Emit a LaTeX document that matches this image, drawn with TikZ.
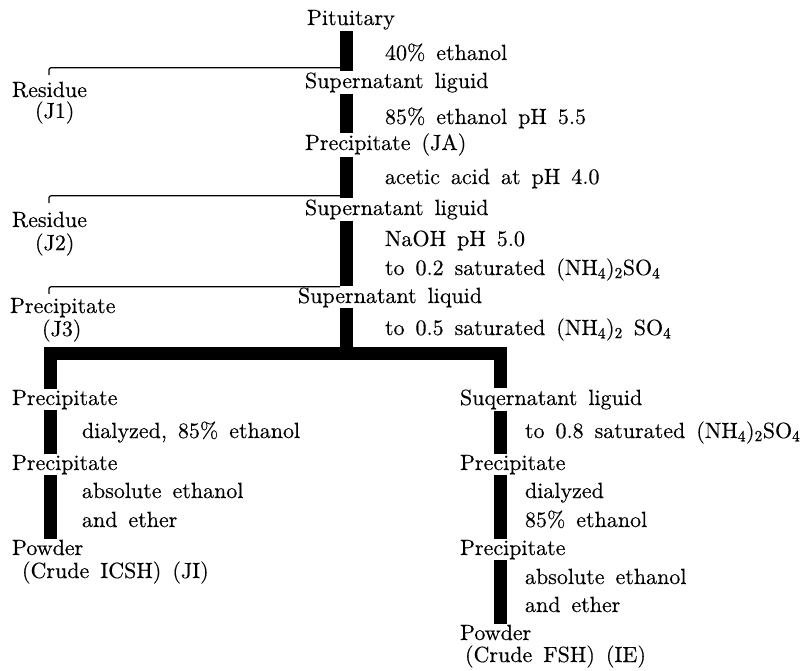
\documentclass[tikz,border=0pt]{standalone}
\usepackage{fontspec}
\setmainfont{lmroman10-regular.otf}[WordSpace=1.5, FakeBold=0.3]
\begin{document}
\begin{tikzpicture}[x=1pt, y=-1pt, line join=miter,
    txt/.style={anchor=base west, inner sep=0pt, outer sep=0pt, font=\fontsize{22}{26}\selectfont},
    bar/.style={line width=13pt, shorten >=1pt, shorten <=1pt},
    link/.style={line width=1.2pt, rounded corners=2pt}]
  \useasboundingbox (0,0) rectangle (808,670);
  % columns of the bars
  \coordinate (mc) at (346.5,0);
  \coordinate (lc) at (50,0);
  \coordinate (rc) at (500,0);
  \coordinate (hk) at (49,0);
  \coordinate (jn) at (346.5,353.5);
  % main stem
  \node[txt] (pit) at (307,25) {Pituitary};
  \node[txt] (m1) at (385,60) {40\% ethanol};
  \node[txt] (sup1) at (305,88) {Supernatant liguid};
  \node[txt] (m2) at (385,124) {85\% ethanol pH 5.5};
  \node[txt] (prJA) at (305,150) {Precipitate (JA)};
  \node[txt] (m3) at (385,184) {acetic acid at pH 4.0};
  \node[txt] (sup2) at (305,215) {Supernatant liguid};
  \node[txt] (m4) at (385,246) {NaOH pH 5.0};
  \node[txt] (m5) at (385,275) {to 0.2 saturated (NH\textsubscript{4})\textsubscript{2}SO\textsubscript{4}};
  \node[txt] (sup3) at (298,303) {Supernatant liquid};
  \node[txt] (m6) at (385,335) {to 0.5 saturated (NH\textsubscript{4})\textsubscript{2} SO\textsubscript{4}};
  \draw[bar] (pit.south -| mc) -- (sup1.north -| mc);
  \draw[bar] (sup1.south -| mc) -- (prJA.north -| mc);
  \draw[bar] (prJA.south -| mc) -- (sup2.north -| mc);
  \draw[bar] (sup2.south -| mc) -- (sup3.north -| mc);
  \draw[bar, shorten >=0pt] (sup3.south -| mc) -- (jn);
  % side fractions
  \node[txt] (res1) at (12,97) {Residue};
  \node[txt] (j1) at (35,118) {(J1)};
  \node[txt] (res2) at (12,227) {Residue};
  \node[txt] (j2) at (35,250) {(J2)};
  \node[txt] (res3) at (10,313) {Precipitate};
  \node[txt] (j3) at (42,336) {(J3)};
  \draw[link] ([yshift=6.7pt]res1.north -| hk) |- ([xshift=-6.5pt,yshift=4.7pt]sup1.north -| mc);
  \draw[link] ([yshift=8.7pt]res2.north -| hk) |- ([xshift=-6.5pt,yshift=3.7pt]sup2.north -| mc);
  \draw[link] ([yshift=4pt]res3.north -| hk) |- ([xshift=-6.5pt,yshift=0.7pt]sup3.north -| mc);
  % left branch
  \node[txt] (lp1) at (12,405) {Precipitate};
  \node[txt] (l1) at (82,438) {dialyzed, 85\% ethanol};
  \node[txt] (lp2) at (12,470) {Precipitate};
  \node[txt] (l2) at (82,498) {absolute ethanol};
  \node[txt] (l3) at (82,527) {and ether};
  \node[txt] (lpw) at (12,555) {Powder};
  \node[txt] (lpc) at (22,578) {(Crude ICSH) (JI)};
  \draw[bar] (lp1.south -| lc) -- (lp2.north -| lc);
  \draw[bar] (lp2.south -| lc) -- (lpw.north -| lc);
  % right branch
  \node[txt] (rs1) at (460,405) {Suqernatant liguid};
  \node[txt] (r1) at (525,438) {to 0.8 saturated (NH\textsubscript{4})\textsubscript{2}SO\textsubscript{4}};
  \node[txt] (rp1) at (460,470) {Precipitate};
  \node[txt] (r2) at (525,498) {dialyzed};
  \node[txt] (r3) at (525,527) {85\% ethanol};
  \node[txt] (rp2) at (460,555) {Precipitate};
  \node[txt] (r4) at (525,584) {absolute ethanol};
  \node[txt] (r5) at (525,612) {and ether};
  \node[txt] (rpw) at (460,640) {Powder};
  \node[txt] (rpc) at (465,662) {(Crude FSH) (IE)};
  \draw[bar] (rs1.south -| rc) -- (rp1.north -| rc);
  \draw[bar] (rp1.south -| rc) -- (rp2.north -| rc);
  \draw[bar] (rp2.south -| rc) -- (rpw.north -| rc);
  % split into two branches
  \draw[bar] (lp1.north -| lc) |- (jn) -| (rs1.north -| rc);
\end{tikzpicture}
\end{document}
